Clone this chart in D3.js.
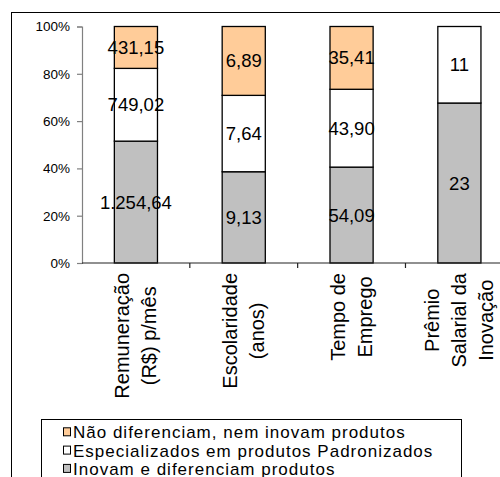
<!DOCTYPE html>
<html>
<head>
<meta charset="utf-8">
<script src="https://cdn.jsdelivr.net/npm/d3@7"></script>
<style>
  html, body { margin: 0; padding: 0; background: #fff; }
  svg { display: block; font-family: "Liberation Sans", Arial, sans-serif; }
</style>
</head>
<body>
<svg id="chart" width="500" height="477"></svg>
<script>
// Category labels (one entry per line of the axis label)
const categories = [
  ["Remuneração", "(R$) p/mês"],
  ["Escolaridade", "(anos)"],
  ["Tempo de", "Emprego"],
  ["Prêmio", "Salarial da", "Inovação"]
];
const categoryKeys = ["rem", "esc", "tempo", "premio"];

// Series values, bottom to top of each stack
const inovam = [1254.64, 9.13, 54.09, 23];
const especializados = [749.02, 7.64, 43.90, 11];
const naoDiferenciam = [431.15, 6.89, 35.41, 0];

// Decimal places shown in the labels of each category
const labelDecimals = [2, 2, 2, 0];

const seriesNames = [
  "Inovam e diferenciam produtos",
  "Especializados em produtos Padronizados",
  "Não diferenciam, nem inovam produtos"
];
const seriesColors = ["#C0C0C0", "#FFFFFF", "#FFCC99"];

const yTicks = [0, 0.2, 0.4, 0.6, 0.8, 1];

const svg = d3.select("#chart");
const font = '"Liberation Sans", Arial, sans-serif';

// Outer chart frame
svg.append("rect")
  .attr("x", 11.5).attr("y", 12.5)
  .attr("width", 600).attr("height", 600)
  .attr("fill", "#fff").attr("stroke", "#000").attr("stroke-width", 1);

const plot = { left: 82, right: 513.3, top: 26.5, bottom: 263 };

const x = d3.scaleBand().domain(categoryKeys).range([plot.left, plot.right]).padding(0);
const y = d3.scaleLinear().domain([0, 1]).range([plot.bottom, plot.top]);
const barW = x.bandwidth() * 0.4;

const table = categoryKeys.map((k, i) => ({
  key: k, i,
  s0: inovam[i], s1: especializados[i], s2: naoDiferenciam[i]
}));
const stack = d3.stack().keys(["s0", "s1", "s2"]).offset(d3.stackOffsetExpand);
const layers = stack(table);

const locale = d3.formatLocale({ decimal: ",", thousands: ".", grouping: [3], currency: ["R$", ""] });
const fmt = (v, d) => locale.format(",." + d + "f")(v);

// Y axis
const yAxis = svg.append("g")
  .attr("transform", `translate(${plot.left},0)`)
  .call(d3.axisLeft(y).tickValues(yTicks).tickFormat(d3.format(".0%")).tickSizeOuter(0).tickSize(5).tickPadding(7));
yAxis.select(".domain").attr("stroke", "#808080").attr("stroke-width", 1.2);
yAxis.selectAll(".tick line").attr("stroke", "#808080").attr("stroke-width", 1.2);
yAxis.selectAll(".tick text").attr("font-size", 13.5).attr("font-family", font).attr("fill", "#000");

// Bars
const gBars = svg.append("g");
layers.forEach((layer, si) => {
  gBars.selectAll(null)
    .data(layer.filter(d => d[1] - d[0] > 0))
    .join("rect")
    .attr("x", d => x(d.data.key) + (x.bandwidth() - barW) / 2)
    .attr("y", d => y(d[1]))
    .attr("width", barW)
    .attr("height", d => y(d[0]) - y(d[1]))
    .attr("fill", seriesColors[si])
    .attr("stroke", "#000")
    .attr("stroke-width", 1.3);
});

// X axis with boundary ticks
const xAxisG = svg.append("g");
xAxisG.append("line")
  .attr("x1", plot.left).attr("x2", plot.right)
  .attr("y1", plot.bottom).attr("y2", plot.bottom)
  .attr("stroke", "#222").attr("stroke-width", 1.2);
xAxisG.selectAll(null)
  .data(categoryKeys.slice(1))
  .join("line")
  .attr("x1", d => x(d)).attr("x2", d => x(d))
  .attr("y1", plot.bottom).attr("y2", plot.bottom + 5)
  .attr("stroke", "#222").attr("stroke-width", 1.2);

// Value labels centred in each segment
const gLabels = svg.append("g");
layers.forEach((layer, si) => {
  gLabels.selectAll(null)
    .data(layer.filter(d => d[1] - d[0] > 0))
    .join("text")
    .attr("x", d => x(d.data.key) + x.bandwidth() / 2)
    .attr("y", d => (y(d[0]) + y(d[1])) / 2 + 6.5)
    .attr("text-anchor", "middle")
    .attr("font-size", 18.5)
    .attr("font-family", font)
    .attr("fill", "#000")
    .text(d => fmt(d.data["s" + si], labelDecimals[d.data.i]));
});

// Rotated multi-line category labels
const lineH = 27;
const catFont = 20;
categories.forEach((lines, i) => {
  const cx = x(categoryKeys[i]) + x.bandwidth() / 2;
  const g = svg.append("g");
  const texts = g.selectAll(null).data(lines).join("text")
    .attr("font-size", catFont)
    .attr("font-family", font)
    .attr("text-anchor", "middle")
    .attr("fill", "#000")
    .text(d => d);
  let maxLen = 0;
  texts.each(function () { maxLen = Math.max(maxLen, this.getComputedTextLength()); });
  const cy = plot.bottom + 10 + maxLen / 2;
  const n = lines.length;
  texts.attr("transform", (d, j) => {
    const off = (j - (n - 1) / 2) * lineH + catFont * 0.35;
    return `translate(${cx + off},${cy}) rotate(-90)`;
  });
});

// Legend
const legend = svg.append("g");
legend.append("rect")
  .attr("x", 41.5).attr("y", 419.5)
  .attr("width", 420).attr("height", 100)
  .attr("fill", "#fff").attr("stroke", "#000").attr("stroke-width", 1);
const legendOrder = [2, 1, 0];
legendOrder.forEach((si, r) => {
  const base = 438.3 + r * 18.3;
  legend.append("rect")
    .attr("x", 63.5).attr("y", base - 10.5)
    .attr("width", 7).attr("height", 8)
    .attr("fill", seriesColors[si]).attr("stroke", "#000").attr("stroke-width", 1);
  legend.append("text")
    .attr("x", 73).attr("y", base)
    .attr("font-size", 17)
    .attr("font-family", font)
    .attr("letter-spacing", 1.0)
    .attr("fill", "#000")
    .text(seriesNames[si]);
});
</script>
</body>
</html>
